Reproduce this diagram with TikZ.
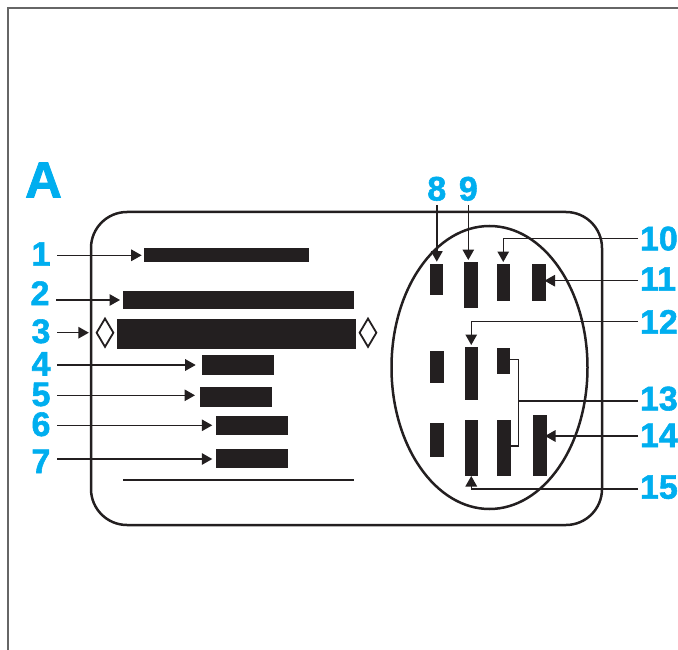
\documentclass[tikz,border=0pt]{standalone}
\usepackage{fontspec}
\setmainfont{Liberation Sans}
\newfontfamily\heavyfont{Liberation Sans}[BoldFeatures={FakeBold=1.6}]
\usetikzlibrary{arrows.meta,shapes.geometric}
\definecolor{cyanlabel}{HTML}{00AEEF}
\definecolor{inkblack}{HTML}{231F20}
\tikzset{
  barbox/.style={fill=inkblack,draw=none,inner sep=0pt,outer sep=0pt,rectangle},
  numlabel/.style={text=cyanlabel,inner sep=0pt,outer sep=0pt,font=\fontsize{34}{34}\heavyfont\bfseries,text height=24pt,text depth=0pt},
  leftlabel/.style={numlabel,minimum width=32pt,align=center},
  arr/.style={draw=inkblack,line width=1.4pt,-{Triangle[length=10.5pt,width=11.5pt]}},
  plainline/.style={draw=inkblack,line width=1.3pt},
  pane/.style={draw=inkblack,line width=2.5pt},
  rhomb/.style={diamond,draw=inkblack,line width=1.8pt,inner sep=0pt,minimum width=17.5pt,minimum height=29pt,aspect=0.6}
}
\begin{document}
\begin{tikzpicture}[x=1pt,y=-1pt]
\useasboundingbox (0,0) rectangle (678,650);
\clip (0,0) rectangle (678,650);
% page frame
\draw[draw=black!60,line width=1.2pt] (8,650) -- (8,8) -- (678,8);
% card and ellipse
\draw[pane,rounded corners=36pt] (91,212) rectangle (602,525);
\draw[pane] (489.5,367.5) ellipse [x radius=98,y radius=141.5];
% bars
\node[barbox,minimum width=165.5pt,minimum height=14.5pt] (b1) at (226.25,254.75) {};
\node[barbox,minimum width=231pt,minimum height=18pt] (b2) at (238.5,300) {};
\node[barbox,minimum width=238.5pt,minimum height=30.5pt] (b3) at (236.25,333.75) {};
\node[barbox,minimum width=72.5pt,minimum height=20pt] (b4) at (237.75,364.5) {};
\node[barbox,minimum width=72pt,minimum height=20.5pt] (b5) at (235.5,396.75) {};
\node[barbox,minimum width=72.5pt,minimum height=19.5pt] (b6) at (251.75,425.25) {};
\node[barbox,minimum width=72.5pt,minimum height=19.5pt] (b7) at (251.75,458.25) {};
\node[barbox,minimum width=13pt,minimum height=31pt] (b8) at (436.5,279.2) {};
\node[barbox,minimum width=13.5pt,minimum height=45.5pt] (b9) at (470.75,284.75) {};
\node[barbox,minimum width=13.5pt,minimum height=37pt] (b10) at (503.25,282) {};
\node[barbox,minimum width=14.5pt,minimum height=37pt] (b11) at (538.75,282) {};
\node[barbox,minimum width=13.5pt,minimum height=32.5pt] (mA) at (436.75,366.75) {};
\node[barbox,minimum width=13.5pt,minimum height=53.5pt] (b12) at (471.25,373.25) {};
\node[barbox,minimum width=13.5pt,minimum height=26pt] (b13a) at (503.25,361) {};
\node[barbox,minimum width=13.5pt,minimum height=34pt] (mD) at (436.75,440) {};
\node[barbox,minimum width=13.5pt,minimum height=56pt] (b15) at (471.25,448) {};
\node[barbox,minimum width=13.5pt,minimum height=56pt] (b13b) at (503.75,448) {};
\node[barbox,minimum width=14pt,minimum height=61.5pt] (b14) at (539.5,445.25) {};
% rule under the bars
\node[barbox,minimum width=231pt,minimum height=2.6pt] (rule) at (238.5,480) {};
% diamonds
\node[rhomb] (dl) at (105,332.7) {};
\node[rhomb] (dr) at (368,332.7) {};
% labels
\node[text=cyanlabel,inner sep=0pt,font=\fontsize{51}{51}\heavyfont\bfseries] (la) at (43.5,180) {A};
\node[leftlabel] (l1) at (41,253.7) {1};
\node[leftlabel] (l2) at (40,293) {2};
\node[leftlabel] (l3) at (41,331) {3};
\node[leftlabel] (l4) at (41,363.5) {4};
\node[leftlabel] (l5) at (41,394) {5};
\node[leftlabel] (l6) at (41,424) {6};
\node[leftlabel] (l7) at (41,461) {7};
\node[numlabel] (l8) at (436.8,188.5) {8};
\node[numlabel] (l9) at (468.3,188.5) {9};
\node[numlabel,anchor=west] (l10) at (640,238.3) {10};
\node[numlabel,anchor=west] (l11) at (640,278.7) {11};
\node[numlabel,anchor=west] (l12) at (640,321.7) {12};
\node[numlabel,anchor=west] (l13) at (640,398.3) {13};
\node[numlabel,anchor=west] (l14) at (640,435) {14};
\node[numlabel,anchor=west] (l15) at (640,486.7) {15};
% left connectors
\draw[arr,shorten >=1.8pt] (l1.east |- 0,255.3) -- (b1.west |- 0,255.3);
\draw[arr,shorten >=3pt] (l2.east |- 0,300) -- (b2.west |- 0,300);
\draw[arr,shorten >=6.5pt] (l3.east |- dl.west) -- (dl.west);
\draw[arr,shorten >=5.8pt] (l4.east |- 0,365) -- (b4.west |- 0,365);
\draw[arr,shorten >=4.5pt] (l5.east |- 0,395.3) -- (b5.west |- 0,395.3);
\draw[arr,shorten >=3.2pt] (l6.east |- 0,425.3) -- (b6.west |- 0,425.3);
\draw[arr,shorten >=3.2pt] (l7.east |- 0,459) -- (b7.west |- 0,459);
% top and right connectors
\draw[arr,shorten <=4.3pt,shorten >=2pt] (l8.south) -- (l8.south |- b8.north);
\draw[arr,shorten <=4.3pt,shorten >=2pt] (l9.south) -- (l9.south |- b9.north);
\draw[arr,shorten <=2pt,shorten >=1.5pt] (l10.west) -| (b10.north);
\draw[arr,shorten <=2pt,shorten >=-1.5pt] (l11.west |- 0,280.7) -- (b11.east |- 0,280.7);
\draw[arr,shorten <=2pt,shorten >=1.5pt] (l12.west) -| (b12.north);
\draw[arr,shorten <=2pt,shorten >=-1.5pt] (l14.west |- 0,436) -- (b14.east |- 0,436);
\draw[arr,shorten <=2pt] (l15.west |- 0,489) -| (b15.south);
% bracket for 13
\coordinate (j1) at (518.5,359.3);
\coordinate (j2) at (518.5,446);
\coordinate (j3) at (518.5,401);
\draw[plainline] (b13a.east |- j1) -- (j1) -- (j2) -- (b13b.east |- j2);
\draw[plainline,shorten <=2pt] (l13.west |- j3) -- (j3);
\end{tikzpicture}
\end{document}
